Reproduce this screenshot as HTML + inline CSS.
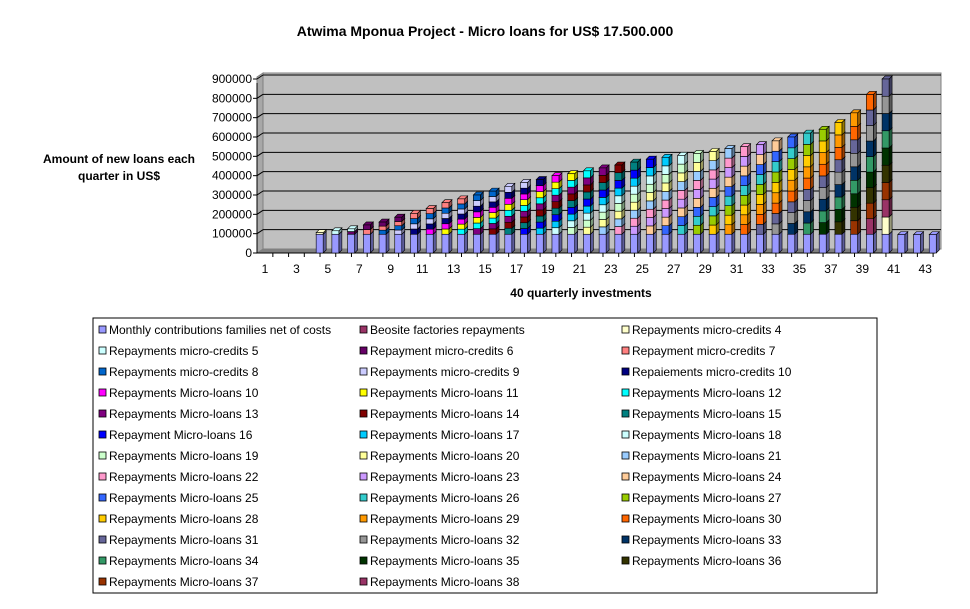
<!DOCTYPE html>
<html><head><meta charset="utf-8"><style>
body{margin:0;background:#fff;font-family:"Liberation Sans",Arial,sans-serif}
svg text{font-family:"Liberation Sans",Arial,sans-serif}
</style></head><body>
<svg id="c" width="970" height="604" xmlns="http://www.w3.org/2000/svg">
<text x="485" y="36" text-anchor="middle" font-size="14" font-weight="bold">Atwima Mponua Project - Micro loans for US$ 17.500.000</text>
<g font-size="12" font-weight="bold" text-anchor="middle">
<text x="119" y="163">Amount of new loans each</text><text x="119" y="180">quarter in US$</text></g>
<text x="581" y="297" text-anchor="middle" font-size="12" font-weight="bold">40 quarterly investments</text>
<g id="plot"></g>
<rect x="93" y="318" width="784" height="275" fill="#fff" stroke="#000"/>
<g id="leg"></g>
</svg>
<script>
const categories=[];for(let i=1;i<=43;i++)categories.push(i);
const baseValues=[0,0,0,97000,97000,97000,97000,97000,97000,97000,97000,97000,97000,97000,97000,97000,97000,97000,97000,97000,97000,97000,97000,97000,97000,97000,97000,97000,97000,97000,97000,97000,97000,97000,97000,97000,97000,97000,97000,97000,95000,95000,95000];
const stackTotals=[0,0,0,105000,115000,125000,145000,160000,185000,205000,230000,260000,280000,300000,320000,345000,365000,380000,400000,410000,425000,440000,455000,470000,485000,495000,505000,515000,525000,540000,550000,560000,580000,600000,620000,640000,675000,725000,820000,900000,95000,95000,95000];
const segCounts=[0,0,0,1,1,2,2,3,4,4,5,6,7,7,8,8,9,9,9,9,9,9,9,9,9,9,9,9,9,9,9,9,9,9,9,9,9,9,9,9,0,0,0];
const yTicks=[0,100000,200000,300000,400000,500000,600000,700000,800000,900000];
const legendLabels=["Monthly contributions families net of costs","Beosite factories repayments","Repayments micro-credits 4","Repayments micro-credits 5","Repayment micro-credits 6","Repayment micro-credits 7","Repayments micro-credits 8","Repayments micro-credits 9","Repaiements micro-credits 10","Repayments Micro-loans 10","Repayments Micro-loans 11","Repayments Micro-loans 12","Repayments Micro-loans 13","Repayments Micro-loans 14","Repayments Micro-loans 15","Repayment Micro-loans 16","Repayments Micro-loans 17","Repayments Micro-loans 18","Repayments Micro-loans 19","Repayments Micro-loans 20","Repayments Micro-loans 21","Repayments Micro-loans 22","Repayments Micro-loans 23","Repayments Micro-loans 24","Repayments Micro-loans 25","Repayments Micro-loans 26","Repayments Micro-loans 27","Repayments Micro-loans 28","Repayments Micro-loans 29","Repayments Micro-loans 30","Repayments Micro-loans 31","Repayments Micro-loans 32","Repayments Micro-loans 33","Repayments Micro-loans 34","Repayments Micro-loans 35","Repayments Micro-loans 36","Repayments Micro-loans 37","Repayments Micro-loans 38"];
const colors=["#9999ff","#993366","#ffffcc","#ccffff","#660066","#ff8080","#0066cc","#ccccff","#000080","#ff00ff","#ffff00","#00ffff","#800080","#800000","#008080","#0000ff","#00ccff","#ccffff","#ccffcc","#ffff99","#99ccff","#ff99cc","#cc99ff","#ffcc99","#3366ff","#33cccc","#99cc00","#ffcc00","#ff9900","#ff6600","#666699","#969696","#003366","#339966","#003300","#333300","#993300","#993366"];
const NS="http://www.w3.org/2000/svg";
function mk(t,a,p){const e=document.createElementNS(NS,t);for(const k in a)e.setAttribute(k,a[k]);p.appendChild(e);return e;}
const plot=document.getElementById('plot');
const x0=263,x1=941,yTop=73,yBase=251,depth=5;
function yS(v){return 253-v/900000*174;}
function xS(i){return 265+(i-1)*15.72;}
// walls
mk('polygon',{points:`257,${yS(0)} 263,${yS(0)-4} 263,${yTop} 257,${yTop+4}`,fill:'#a8a8a8',stroke:'#808080'},plot);
mk('rect',{x:x0,y:yTop,width:x1-x0,height:yS(0)-4-yTop,fill:'#c0c0c0',stroke:'#808080'},plot);
mk('polygon',{points:`257,${yS(0)} 935,${yS(0)} 941,${yS(0)-4} 263,${yS(0)-4}`,fill:'#808080'},plot);
for(const t of yTicks){
  const y=yS(t);
  if(t>0){const g=mk('line',{x1:x0,y1:y-4,x2:x1,y2:y-4,stroke:'#000'},plot);
  mk('line',{x1:257,y1:y,x2:263,y2:y-4,stroke:'#000'},plot);}
  const tx=mk('text',{x:252,y:y+4,'text-anchor':'end','font-size':12},plot);tx.textContent=t;
  
  
  mk('line',{x1:253,y1:y,x2:257,y2:y,stroke:'#000'},plot);
}
mk('line',{x1:257,y1:yS(900000)+4,x2:257,y2:yS(0),stroke:'#000'},plot);
mk('line',{x1:257,y1:yS(0),x2:935,y2:yS(0),stroke:'#000'},plot);
categories.forEach((c,i)=>{
  if(c%2===1){const tx=mk('text',{x:xS(c),y:273,'text-anchor':'middle','font-size':12},plot);tx.textContent=c;
  
  }
  mk('line',{x1:xS(c)+7.86,y1:yS(0),x2:xS(c)+7.86,y2:yS(0)+4,stroke:'#000'},plot);
});
function box(x,ya,yb,col,g){
  const w=7;
  mk('polygon',{points:`${x+w},${yb} ${x+w+depth*0.6},${yb-3} ${x+w+depth*0.6},${ya-3} ${x+w},${ya}`,fill:col,stroke:'#000','stroke-width':0.6,'filter':'brightness(0.6)',opacity:1},g).setAttribute('style','filter:brightness(0.6)');
  mk('polygon',{points:`${x},${yb} ${x+depth*0.6},${yb-3} ${x+w+depth*0.6},${yb-3} ${x+w},${yb}`,fill:col,stroke:'#000','stroke-width':0.6},g);
  mk('rect',{x:x,y:yb,width:w,height:ya-yb,fill:col,stroke:'#000','stroke-width':0.6},g);
}
categories.forEach((c,i)=>{
  const g=mk('g',{},plot);
  
  
  const x=xS(c)+44-40;
  if(baseValues[i]>0){
    const tot=Math.max(stackTotals[i],baseValues[i]);
    box(x,yS(0),yS(baseValues[i]),colors[0],g);
    const n=segCounts[i];
    if(n>0){const seg=(tot-baseValues[i])/n;
      for(let k=0;k<n;k++){
        const col=colors[2+((c-4-k)%36+36)%36];
        box(x,yS(baseValues[i]+seg*k),yS(baseValues[i]+seg*(k+1)),col,g);
      }}
  }
});
const leg=document.getElementById('leg');
legendLabels.forEach((l,i)=>{
  const col=i%3,row=Math.floor(i/3);
  const g=mk('g',{},leg);
  
  
  const x=[99,360,622][col],y=330+row*21;
  mk('rect',{x:x,y:y-4,width:7,height:7,fill:colors[i],stroke:'#000','stroke-width':0.8},g);
  const t=mk('text',{x:x+10,y:y+4,'font-size':12},g);t.textContent=l;
});
</script>
</body></html>
